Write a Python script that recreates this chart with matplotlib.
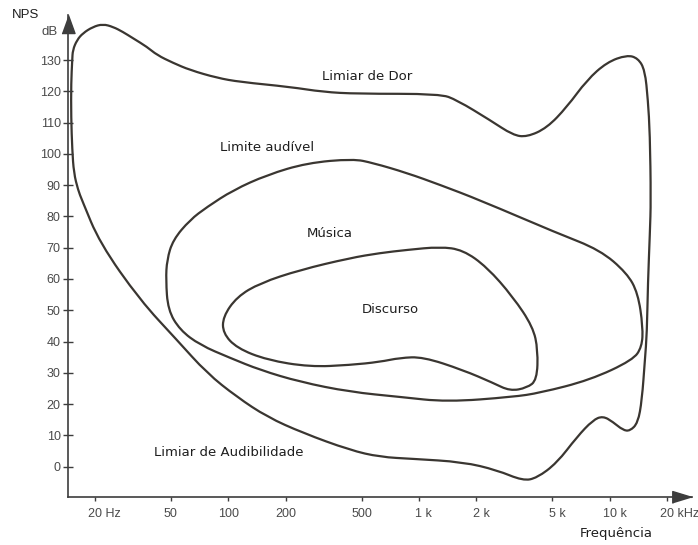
import numpy as np
import matplotlib
matplotlib.use('Agg')
import matplotlib.pyplot as plt
from matplotlib.path import Path
from matplotlib.patches import PathPatch
from matplotlib.transforms import ScaledTranslation

# outer contour: hearing threshold (bottom) + pain threshold (top), closed loop
outer_hz = [17.1, 21.2, 34.4, 53.8, 77.3, 111, 160, 246, 435, 624, 930, 1701,
            2564, 3511, 4157, 5290, 6739, 8173, 9224, 10406, 11742, 12776,
            14074, 14770, 15313, 15687, 15879, 16263, 16463, 16263, 15879,
            15313, 14074, 12322, 9678, 7603, 5973, 4692, 3685, 3111, 2357,
            1582, 1289, 473, 314, 211, 115, 87.3, 63.0, 51.3, 42.3, 37.5, 31.6,
            28.0, 24.9, 22.0, 19.5, 17.3, 16.1, 15.3, 15.2, 15.0, 15.0, 15.2,
            15.5, 16.3]
outer_db = [85.2, 71.5, 53.3, 40.5, 29.9, 22.3, 15.9, 10.8, 5.3, 3.1, 2.5, 1.5,
            -1.1, -4.5, -3.6, 1.2, 9.5, 14.9, 16.2, 14.3, 11.7, 11.4,
            14.0, 21.3, 34.1, 42.7, 58.7, 74.7, 85.2, 106.6, 117.2,
            126.8, 130.6, 131.6, 129.3, 123.6, 115.0, 108.3, 105.4, 106.0, 110.8,
            117.2, 119.2, 119.2, 119.8, 121.4, 123.0, 124.3, 126.8, 129.1, 131.6, 134.2, 137.0,
            139.0, 140.6, 141.5, 140.6, 138.6, 136.4, 133.2, 130.0, 122.7, 111.8, 101.3,
            93.9, 88.5]

# music region
music_hz = [47.1, 48.3, 55.8, 71.1, 102, 147, 238, 435, 795, 1402, 3111, 4310,
            7883, 13248, 14770, 14948, 14074, 12322, 8895, 5290, 2089, 1289,
            865, 574, 451, 259, 160, 106, 77.3, 63.0, 51.3, 47.7]
music_db = [59.7, 50.1, 43.7, 38.9, 34.8, 30.9, 27.1, 23.9, 22.3, 20.7, 22.3, 23.6,
            27.7, 34.1, 38.3, 44.7, 55.5, 61.9, 69.3, 74.7, 85.2, 90.1,
            93.9, 97.1, 98.4, 97.1, 93.3, 88.4, 83.0, 78.9, 72.5, 66.1]

# speech region
speech_hz = [93.8, 93.8, 111, 160, 268, 435, 624, 795, 1050, 1701, 2444, 3000,
             3685, 4157, 4207, 3962, 3111, 2273, 1701, 1289, 865, 624, 435,
             238, 147, 111]
speech_db = [47.9, 42.7, 37.9, 34.1, 31.9, 32.5, 33.5, 34.8, 35.1, 30.9, 26.8, 24.2,
             25.2, 27.7, 37.3, 44.7, 54.3, 63.8, 69.3, 70.3, 69.3, 68.3, 66.7,
             62.9, 58.7, 54.3]

xticks = [20, 50, 100, 200, 500, 1000, 2000, 5000, 10000, 20000]
xticklabels = ['20 Hz', '50', '100', '200', '500', '1 k', '2 k', '5 k', '10 k', '20 kHz']
yticks = list(range(0, 140, 10))

line_c = '#3a3631'
axis_c = '#3d3d3d'
text_c = '#4a4a4a'

fig = plt.figure(figsize=(6.98, 5.45), dpi=100)
ax = fig.add_axes([0.0979, 0.0886, 0.8935, 0.8839])
ax.set_xscale('log')
ax.set_xlim(14.5, 27040)
ax.set_ylim(-9.6, 144.4)


def loop_path(hz, db):
    # closed quadratic bezier: read points are control points, joins at midpoints
    lx = np.log10(hz)
    y = np.asarray(db, dtype=float)
    mx = (lx + np.roll(lx, -1)) / 2
    my = (y + np.roll(y, -1)) / 2
    verts = [(mx[-1], my[-1])]
    codes = [Path.MOVETO]
    for i in range(len(lx)):
        verts += [(lx[i], y[i]), (mx[i], my[i])]
        codes += [Path.CURVE3, Path.CURVE3]
    verts.append((mx[-1], my[-1]))
    codes.append(Path.CLOSEPOLY)
    verts = np.array(verts)
    verts[:, 0] = 10 ** verts[:, 0]
    return Path(verts, codes)


for hz, db in [(outer_hz, outer_db), (music_hz, music_db), (speech_hz, speech_db)]:
    ax.add_patch(PathPatch(loop_path(hz, db), fill=False, edgecolor=line_c,
                           lw=1.6, joinstyle='round', capstyle='round'))

# axes with arrows
for s in ['top', 'right']:
    ax.spines[s].set_visible(False)
for s in ['left', 'bottom']:
    ax.spines[s].set_color(axis_c)
    ax.spines[s].set_linewidth(1.2)
head_up = [(-6.5, -9), (6.5, -9), (0, 9)]
head_right = [(-9, -5.5), (-9, 5.5), (9, 0)]
ax.plot([0], [1 - 9 / 482], marker=head_up, ms=13, color=axis_c,
        transform=ax.transAxes, clip_on=False)
ax.plot([1 - 10 / 624], [0], marker=head_right, ms=14, color=axis_c,
        transform=ax.transAxes, clip_on=False)

ax.set_xticks(xticks)
ax.set_xticklabels(xticklabels)
ax.xaxis.set_minor_locator(matplotlib.ticker.NullLocator())
ax.set_yticks(yticks)
ax.tick_params(axis='x', direction='out', length=3, width=1, color=axis_c,
               pad=5, labelsize=9, labelcolor=text_c)
ax.tick_params(axis='y', direction='inout', length=7, width=1, color=axis_c,
               pad=2, labelsize=9, labelcolor=text_c)
for lab in ax.get_xticklabels() + ax.get_yticklabels():
    lab.set_family('Liberation Sans')
# numbers centred on the tick, units trailing to the right
for lab, txt in zip(ax.get_xticklabels(), xticklabels):
    nd = len(txt.split(' ')[0])
    lab.set_horizontalalignment('left')
    lab.set_transform(lab.get_transform() +
                      ScaledTranslation(-2.5 * nd / 72, 0, fig.dpi_scale_trans))

labels = [('Limiar de Dor', 534, 124.6), ('Limite audível', 160, 101.9),
          ('Música', 341, 74.7), ('Discurso', 705, 50.4),
          ('Limiar de Audibilidade', 101, 4.4)]
for txt, fx, fy in labels:
    ax.text(fx, fy, txt, ha='center', va='center', fontsize=9.5,
            family='DejaVu Sans', color='#1e1e1e')

fig.text(0.037, 0.972, 'NPS', ha='center', va='center', fontsize=9.5,
         family='Liberation Sans', color='#1e1e1e')
fig.text(0.083, 0.941, 'dB', ha='right', va='center', fontsize=9.5,
         family='Liberation Sans', color=text_c)
fig.text(0.8825, 0.022, 'Frequência', ha='center', va='center', fontsize=9.5,
         family='DejaVu Sans', color='#1e1e1e')

fig.savefig('out.png', dpi=100, facecolor='white')
